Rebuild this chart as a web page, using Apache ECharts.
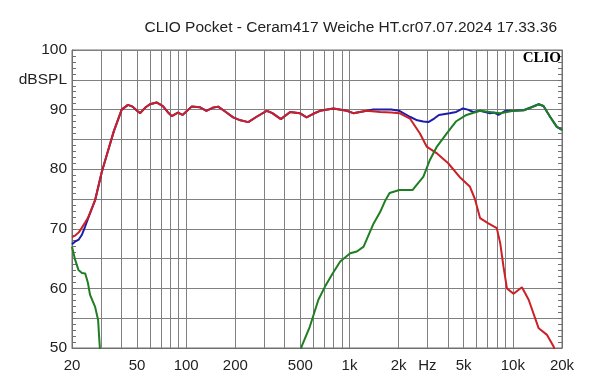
<!DOCTYPE html>
<html><head><meta charset="utf-8">
<script src="https://cdn.jsdelivr.net/npm/echarts@6/dist/echarts.min.js"></script>
<style>html,body{margin:0;padding:0;background:#fff}#c{width:600px;height:384px}</style>
</head><body><div id="c"></div>
<script>
const titleText = 'CLIO Pocket - Ceram417 Weiche HT.cr07.07.2024 17.33.36';
const gridFreqs = [20,30,40,50,60,70,80,90,100,200,300,400,500,600,700,800,900,1000,2000,3000,4000,5000,6000,7000,8000,9000,10000,20000];
const xLabelVals = [20,50,100,200,500,1000,2000,3000,5000,10000,20000];
const xLabelText = ['20','50','100','200','500','1k','2k','Hz','5k','10k','20k'];

const redFreq = [20,21,22,23,24,25,27.7,30.4,33,36,40.3,44,47,50,52.3,56,60,65.9,72,77,81.6,89,95,108,121,133,145,157,175,194,215,240,270,311,337,380,433,496,546,600,660,797,963,1055,1275,1540,1800,2020,2344,2700,2967,3450,4020,4720,5450,5860,6300,7080,7980,8370,8770,9200,10100,11370,12500,14400,16200,17800,18500];
const redDb   = [68.6,68.9,69.4,70.2,71.0,71.8,74.8,79.5,82.8,86.3,90.0,90.8,90.5,89.8,89.4,90.3,90.9,91.2,90.6,89.6,88.9,89.5,89.1,90.5,90.4,89.8,90.3,90.5,89.6,88.7,88.2,87.9,88.8,89.8,89.4,88.4,89.6,89.4,88.7,89.3,89.8,90.2,89.8,89.4,89.8,89.6,89.5,89.4,88.5,86.0,83.8,82.6,81.0,78.7,77.1,75.0,71.8,70.9,70.1,67.6,63.6,60.0,59.1,60.2,58.1,53.3,52.2,50.2,48.0];

const blueFreq = [20,21,22,23,24,25,27.7,30.4,33,36,40.3,44,47,50,52.3,56,60,65.9,72,77,81.6,89,95,108,121,133,145,157,175,194,215,240,270,311,337,380,433,496,546,600,660,797,963,1055,1275,1400,1540,1800,2020,2340,2600,2830,3040,3300,3530,4100,4500,4950,5300,5720,6300,7260,7700,8170,9000,10100,11650,13000,14400,15400,16900,18600,20000];
const blueDb   = [67.4,67.9,68.2,69.0,70.3,71.6,74.8,79.5,82.8,86.3,90.0,90.8,90.5,89.8,89.4,90.3,90.9,91.2,90.6,89.6,88.9,89.5,89.1,90.5,90.4,89.8,90.3,90.5,89.6,88.7,88.2,87.9,88.8,89.8,89.4,88.4,89.6,89.4,88.7,89.3,89.8,90.2,89.8,89.4,89.8,90.0,90.0,90.0,89.8,88.8,88.2,88.0,87.9,88.5,89.1,89.4,89.6,90.2,90.0,89.6,89.8,89.4,89.5,89.1,89.8,89.8,89.9,90.4,90.9,90.6,88.8,87.1,86.6];

const greenLowFreq = [20,20.8,21.9,23,24.1,25,25.8,27.7,28.9,29.3,29.6,29.8];
const greenLowDb   = [67.0,65.0,63.1,62.6,62.5,61.0,58.9,56.9,54.7,52.0,50.2,48.0];
const greenHighFreq = [495,508,572,645,708,780,877,1010,1110,1220,1405,1540,1660,1760,2020,2430,2600,2830,3100,3430,3940,4480,5200,6300,7600,8370,10100,11650,13000,14400,15400,16900,18600,20000];
const greenHighDb   = [48.5,50.2,53.6,58.1,60.3,62.3,64.5,65.9,66.2,67.0,70.9,72.8,74.8,76.0,76.5,76.5,77.5,78.7,81.5,83.8,86.0,88.0,89.1,89.8,89.5,89.4,89.8,89.9,90.4,90.9,90.6,88.8,87.1,86.6];

function pairs(f, v) { return f.map((x, i) => [x, v[i]]); }

const FONT = 'Liberation Sans, Arial, sans-serif';
const GRID_C = '#808080';
const chart = echarts.init(document.getElementById('c'), null, {renderer: 'canvas'});
const lineSeries = (name, data, color) => ({
  name, type: 'line', data, showSymbol: false, symbol: 'none', smooth: false,
  lineStyle: {color, width: 2}, itemStyle: {color}, clip: true, animation: false, z: 3
});
chart.setOption({
  animation: false,
  backgroundColor: '#fff',
  title: {
    text: titleText, right: 38, top: 15,
    textStyle: {fontFamily: FONT, fontSize: 15.5, fontWeight: 'normal', color: '#222'}
  },
  grid: {left: 72, right: 38, top: 50, bottom: 36, containLabel: false, outerBoundsMode: 'none',
         show: true, borderColor: '#707070', borderWidth: 1, backgroundColor: 'transparent'},
  xAxis: {
    type: 'log', logBase: 10, min: 20, max: 20000,
    axisLine: {show: true, lineStyle: {color: '#707070', width: 1}},
    axisTick: {show: false, customValues: gridFreqs},
    splitLine: {show: true, lineStyle: {color: GRID_C, width: 1}},
    axisLabel: {
      customValues: xLabelVals, margin: 10,
      formatter: v => { const i = xLabelVals.indexOf(Math.round(v)); return i >= 0 ? xLabelText[i] : ''; },
      fontFamily: FONT, fontSize: 15, color: '#222'
    }
  },
  yAxis: [{
    type: 'value', min: 50, max: 100, interval: 5,
    axisLine: {show: true, lineStyle: {color: '#707070'}},
    axisTick: {show: true, inside: true, length: 4, lineStyle: {color: '#707070'}},
    minorTick: {show: true, splitNumber: 5, length: 4, lineStyle: {color: '#707070'}},
    splitLine: {show: true, lineStyle: {color: GRID_C, width: 1}},
    axisLabel: {
      margin: 5, fontFamily: FONT, fontSize: 15.5, color: '#222',
      formatter: v => v === 95 ? 'dBSPL' : (v % 10 === 0 ? String(v) : '')
    }
  }, {
    type: 'value', min: 50, max: 100, interval: 5, position: 'right',
    axisLine: {show: true, lineStyle: {color: '#707070'}},
    axisTick: {show: true, inside: true, length: 4, lineStyle: {color: '#707070'}},
    minorTick: {show: true, splitNumber: 5, length: 4, lineStyle: {color: '#707070'}},
    splitLine: {show: false},
    axisLabel: {show: false}
  }],
  graphic: [{
    type: 'text', right: 39, top: 51,
    style: {text: 'CLIO', font: 'bold 15px "Liberation Serif", "Times New Roman", serif', fill: '#000'},
    z: 10
  }],
  series: [
    lineSeries('Sum', pairs(blueFreq, blueDb), '#1c1ca8'),
    lineSeries('Woofer', pairs(redFreq, redDb), '#cc2026'),
    lineSeries('Tweeter low', pairs(greenLowFreq, greenLowDb), '#1f7d22'),
    lineSeries('Tweeter', pairs(greenHighFreq, greenHighDb), '#1f7d22')
  ]
});
</script>
</body></html>
